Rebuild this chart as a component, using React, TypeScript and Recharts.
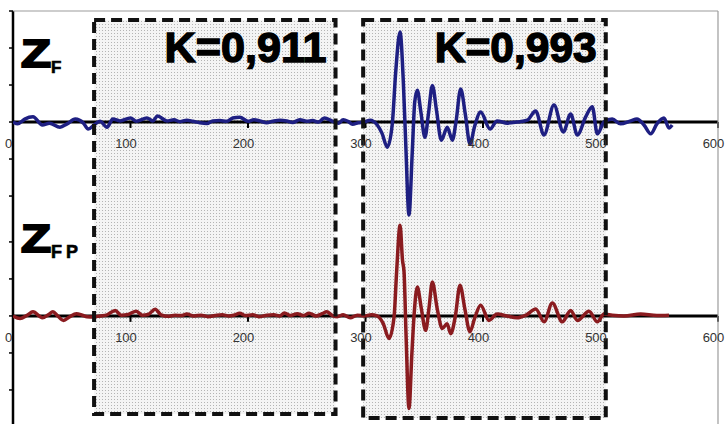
import React from 'react';
import {
  ComposedChart,
  Line,
  XAxis,
  YAxis,
  ReferenceArea,
  ReferenceLine,
  ReferenceDot,
} from 'recharts';

// ---- data (time in samples, amplitude in arbitrary units) ----
const zfTime = [
  0, 4, 10, 17, 25, 31, 40, 46, 53, 60, 64, 69, 74, 80, 85, 91, 100, 105, 114, 119, 123, 131, 137, 142, 148,
  153, 159, 165, 170, 176, 182, 187, 193, 200, 205, 210, 216, 221, 227, 233, 238, 244, 250, 255, 260, 265,
  272, 277, 281, 285, 289, 294, 299, 304, 310, 314, 318.6, 322.8, 325.7, 329.4, 332.2, 334.2, 337, 339.8,
  341.9, 344.1, 347, 350.6, 353.5, 356.9, 360.5, 364.5, 369.6, 373.9, 377, 381, 385, 388.9, 393, 398, 406,
  412, 420.7, 429, 437.7, 444.8, 451.9, 460.4, 468.4, 474.6, 480.3, 487.4, 493, 497.3, 503, 510, 517, 525.7,
  531, 537, 542.7, 548, 554, 558.3, 561,
];
const zfValue = [
  0, -0.5, 0.8, 1.4, -0.8, -0.3, -1.4, -0.5, 0.8, -0.3, -1.9, -0.8, 0.2, -1.4, 0.8, 0.3, 1.1, 0.2, 1.1, 0.3,
  1.6, 0.3, 0.6, 0.1, 0.5, 0.2, -0.2, -0.4, 0.3, 0.4, 0.2, 1.1, 1.3, 0.2, 0.6, 0.3, -0.2, 0.2, 0.5, 0.3, -0.1,
  0.6, 0.2, 0.4, 0, 1.1, 0.2, -0.3, 0.6, 0.2, -0.6, -0.2, 0, 0.5, -0.8, -3, -6.8, -0.5, 13.5, 24.3, 10.8,
  -5.4, -25.1, -8.1, 5.4, 8.6, 3, -4.1, 2, 9.9, 3, -4.9, -1.4, -4.9, 0, 8.9, 2, -5.9, -1, 2.7, -1.9, 0.3,
  -0.3, 0, 0.5, 3, -3.5, 4.6, -2.7, 2.2, -3.5, 1.4, 4.1, -3.2, 0, 0.8, -0.5, 0.3, 0.8, -0.8, -3.2, -0.5, 1.1,
  -1.6, -0.8,
];
const zfpTime = [
  0, 6, 12, 17, 25, 30, 34, 38, 43, 48, 54, 59, 63, 68, 74, 80, 87, 92, 98, 105, 110, 115, 121, 126, 132,
  138, 143, 148, 154, 160, 166, 172, 178, 184, 188, 193, 198, 204, 210, 216, 222, 227, 231, 236, 242, 247,
  252, 258, 263, 267, 272, 276, 281, 287, 293, 298.7, 305, 309.8, 315, 320, 324.3, 326.5, 329.4, 331.5,
  332.8, 334.5, 337, 339.5, 341.3, 344.1, 347.5, 351.2, 354, 356.9, 361, 365.4, 369.4, 372.5, 376.5, 380.4,
  384.5, 388.9, 393, 398, 405.1, 412, 420.4, 428.9, 437, 444.9, 452, 459, 467.5, 474.6, 480.3, 490.2, 497.3,
  503, 510, 520, 534.2, 548, 558.3,
];
const zfpValue = [
  0, -0.7, 0.2, 1.1, -0.5, 0.3, 1.1, 0, -1.2, -0.3, 0.6, 0.2, -0.2, -0.3, 0, 0.3, 1.5, 0.2, 0.4, 1.3, 0.2,
  0.4, 1.8, 0.3, -0.1, 0.2, 0.1, 0.5, 0, 0.2, -0.2, 0.1, 0.3, 0, 0.2, 0.7, 0.1, 0.3, -0.2, 0.2, 0.3, 0, 0.8,
  0.1, 0.6, 0.1, 0.7, 0, 0.6, 1.1, 0.1, -0.2, 0.3, -0.5, 0.2, 0, 0.3, 0, -2, -6.1, -0.3, 12, 24.5, 15, 11.9,
  -5, -25, -10, 0, 7.8, 2, -3.9, 2, 9.2, 2, -3.4, -2.1, -4.8, 0, 8.3, 2, -4.3, -0.5, 2.9, -1.2, 0.5, 0, -0.5,
  0.3, 1.9, -1.6, 3.5, -1.6, 1.5, -1.2, 1.3, -1.6, 0.5, 0.2, 0, 0.5, 0.1, 0.2,
];
const xTicks = [0, 100, 200, 300, 400, 500, 600];
const topTicks = [30, 20, 10, 0, -10, -20];
const bottomTicks = [20, 10, 0, -10, -20];
const windowStart = [69, 298];
const windowEnd = [274.5, 504.5];
const windowLabels = ['K=0,911', 'K=0,993'];

const zfData = zfTime.map((t, i) => ({ t, v: zfValue[i] }));
const zfpData = zfpTime.map((t, i) => ({ t, v: zfpValue[i] }));

const FONT = '"Liberation Sans", Arial, sans-serif';
const BLUE = '#1e1f82';
const RED = '#8a1b1f';

const tickLabel = (value: string) => (p: any) => {
  const vb = p.viewBox || {};
  return (
    <text
      x={(vb.x ?? 0) - 4.5}
      y={(vb.y ?? 0) + 4.5}
      textAnchor="middle"
      fontFamily={FONT}
      fontSize={13}
      fill="#333"
    >
      {value}
    </text>
  );
};

const kLabel = (value: string) => (p: any) => {
  const vb = p.viewBox || {};
  return (
    <text
      x={vb.x + vb.width - 9}
      y={vb.y + 42}
      textAnchor="end"
      fontFamily={FONT}
      fontWeight="bold"
      fontSize={42}
      textLength={162}
      lengthAdjust="spacingAndGlyphs"
      fill="#000"
      stroke="#000"
      strokeWidth={1.4}
    >
      {value}
    </text>
  );
};

const zLabel = (sub: string, subWidth: number, subSize: number) => (p: any) => {
  const vb = p.viewBox || {};
  const x = vb.x ?? 0;
  const y = vb.y ?? 0;
  return (
    <g>
      <text
        x={x + 1}
        y={y}
        fontFamily={FONT}
        fontWeight="bold"
        fontSize={39}
        textLength={30}
        lengthAdjust="spacingAndGlyphs"
        fill="#000"
        stroke="#000"
        strokeWidth={2}
      >
        Z
      </text>
      <text
        x={x + 31}
        y={y + 6}
        fontFamily={FONT}
        fontWeight="bold"
        fontSize={subSize}
        textLength={subWidth}
        lengthAdjust="spacing"
        fill="#000"
        stroke="#000"
        strokeWidth={0.6}
      >
        {sub}
      </text>
    </g>
  );
};

export default function App() {
  return (
    <div style={{ position: 'absolute', left: 0, top: 0, width: 728, height: 424, background: '#fff' }}>
      <svg width={0} height={0} style={{ position: 'absolute' }}>
        <defs>
          <pattern id="dotfill" width={3} height={3} patternUnits="userSpaceOnUse">
            <rect width={3} height={3} fill="#f4f4f4" />
            <rect width={1} height={1} fill="#b4b4b4" />
          </pattern>
        </defs>
      </svg>
      <ComposedChart width={728} height={424} margin={{ top: 11, right: 10, bottom: 0, left: 13 }}>
        <XAxis dataKey="t" type="number" domain={[0, 600]} allowDataOverflow hide />
        <YAxis yAxisId="top" type="number" domain={[-81.6, 30]} allowDataOverflow hide />
        <YAxis yAxisId="bottom" type="number" domain={[-29.2, 82.4]} allowDataOverflow hide />

        {windowStart.map((s, i) => (
          <ReferenceArea
            key={`fill-${i}`}
            yAxisId="top"
            x1={s}
            x2={windowEnd[i]}
            y1={i === 0 ? -78.9 : -80}
            y2={27.6}
            fill="url(#dotfill)"
            fillOpacity={1}
            stroke="none"
            zIndex={50}
          />
        ))}

        <ReferenceLine yAxisId="top" y={30} stroke="#9c9c9c" strokeWidth={1.2} />
        <ReferenceLine yAxisId="top" x={600} stroke="#9c9c9c" strokeWidth={1.2} />

        {/* left value axis with its tick marks */}
        <ReferenceLine yAxisId="top" x={0} stroke="#000" strokeWidth={2.5} zIndex={300} />
        {topTicks.map((v) => (
          <ReferenceLine
            key={`yt-${v}`}
            yAxisId="top"
            ifOverflow="visible"
            segment={[{ x: -3.4, y: v }, { x: 0, y: v }]}
            stroke="#000"
            strokeWidth={1.5}
            zIndex={300}
          />
        ))}
        {bottomTicks.map((v) => (
          <ReferenceLine
            key={`yb-${v}`}
            yAxisId="bottom"
            ifOverflow="visible"
            segment={[{ x: -3.4, y: v }, { x: 0, y: v }]}
            stroke="#000"
            strokeWidth={1.5}
            zIndex={300}
          />
        ))}

        {/* category axes at zero */}
        <ReferenceLine yAxisId="top" y={0} stroke="#000" strokeWidth={3} zIndex={300} />
        <ReferenceLine yAxisId="bottom" y={0} stroke="#000" strokeWidth={3} zIndex={300} />
        {xTicks.map((v) => (
          <ReferenceLine
            key={`tt-${v}`}
            yAxisId="top"
            segment={[{ x: v, y: 0 }, { x: v, y: -1.6 }]}
            stroke="#000"
            strokeWidth={2}
            zIndex={300}
          />
        ))}
        {xTicks.map((v) => (
          <ReferenceLine
            key={`bt-${v}`}
            yAxisId="bottom"
            segment={[{ x: v, y: 0 }, { x: v, y: -1.6 }]}
            stroke="#000"
            strokeWidth={2}
            zIndex={300}
          />
        ))}

        <Line
          data={zfData}
          dataKey="v"
          yAxisId="top"
          type="monotone"
          stroke={BLUE}
          strokeWidth={3.5}
          dot={false}
          isAnimationActive={false}
          zIndex={400}
        />
        <Line
          data={zfpData}
          dataKey="v"
          yAxisId="bottom"
          type="monotone"
          stroke={RED}
          strokeWidth={3.5}
          dot={false}
          isAnimationActive={false}
          zIndex={400}
        />

        {windowStart.map((s, i) => (
          <ReferenceArea
            key={`frame-${i}`}
            yAxisId="top"
            x1={s}
            x2={windowEnd[i]}
            y1={i === 0 ? -78.9 : -80}
            y2={27.6}
            fill="none"
            fillOpacity={0}
            stroke="#111"
            strokeWidth={4}
            strokeDasharray="11 6"
            label={kLabel(windowLabels[i])}
            zIndex={1000}
          />
        ))}

        {xTicks.map((v) => (
          <ReferenceDot
            key={`tl-${v}`}
            yAxisId="top"
            x={v}
            y={-5.9}
            r={0}
            fill="none"
            stroke="none"
            label={tickLabel(String(v))}
            zIndex={1100}
          />
        ))}
        {xTicks.map((v) => (
          <ReferenceDot
            key={`bl-${v}`}
            yAxisId="bottom"
            x={v}
            y={-5.9}
            r={0}
            fill="none"
            stroke="none"
            label={tickLabel(String(v))}
            zIndex={1100}
          />
        ))}

        <ReferenceDot
          yAxisId="top"
          x={6}
          y={14.9}
          r={0}
          fill="none"
          stroke="none"
          label={zLabel('F', 9, 17)}
          zIndex={1100}
        />
        <ReferenceDot
          yAxisId="bottom"
          x={6}
          y={17.3}
          r={0}
          fill="none"
          stroke="none"
          label={zLabel('FP', 27, 18)}
          zIndex={1100}
        />
      </ComposedChart>
    </div>
  );
}
